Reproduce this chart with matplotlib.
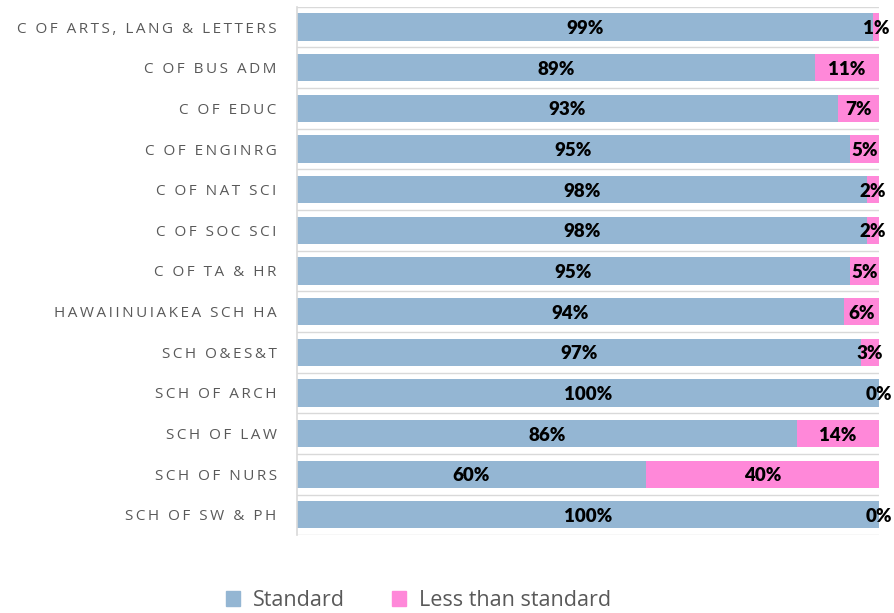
import matplotlib
matplotlib.use("Agg")
import matplotlib.pyplot as plt
from matplotlib.patches import Patch

colleges = ["C OF ARTS, LANG & LETTERS", "C OF BUS ADM", "C OF EDUC", "C OF ENGINRG",
            "C OF NAT SCI", "C OF SOC SCI", "C OF TA & HR", "HAWAIINUIAKEA SCH HA",
            "SCH O&ES&T", "SCH OF ARCH", "SCH OF LAW", "SCH OF NURS", "SCH OF SW & PH"]
standard = [99, 89, 93, 95, 98, 98, 95, 94, 97, 100, 86, 60, 100]
less_than = [1, 11, 7, 5, 2, 2, 5, 6, 3, 0, 14, 40, 0]

BLUE = "#94b6d3"
PINK = "#ff88d9"
GRAY_TXT = "#595959"
GRID = "#d9d9d9"
FONT = ["Open Sans", "DejaVu Sans"]
BOLD_FONT = ["Lato", "DejaVu Sans"]


def spaced(s):
    # mimic the letter spacing of the original axis labels
    return "\u2009".join(s)


fig = plt.figure(figsize=(8.94, 6.13), dpi=100)
ax = fig.add_axes([0.332, 0.127, 0.651, 0.862])

y = list(range(len(colleges)))
ax.barh(y, standard, height=0.67, color=BLUE, label="Standard", zorder=2)
ax.barh(y, less_than, left=standard, height=0.67, color=PINK,
        label="Less than standard", zorder=2)

for i in y:
    ax.text(standard[i] / 2, i, f"{standard[i]}%", ha="center", va="center_baseline",
            fontsize=13.5, fontweight="heavy", color="black", family=BOLD_FONT, zorder=3)
    ax.text(standard[i] + less_than[i] / 2, i, f"{less_than[i]}%", ha="center",
            va="center_baseline", fontsize=13.5, fontweight="heavy", color="black",
            family=BOLD_FONT, zorder=3)

ax.set_xlim(0, 100)
ax.set_ylim(len(colleges) - 0.5, -0.5)
for b in range(len(colleges) + 1):
    ax.axhline(b - 0.5, color=GRID, lw=1, zorder=1)

ax.set_yticks(y)
ax.set_yticklabels([spaced(c) for c in colleges], family=FONT, fontsize=11,
                   color=GRAY_TXT)
ax.tick_params(axis="y", length=0, pad=14.5)
ax.set_xticks([])
for side in ["top", "right", "bottom"]:
    ax.spines[side].set_visible(False)
ax.spines["left"].set_color(GRID)
ax.spines["left"].set_linewidth(1.2)

handles = [Patch(color=BLUE, label="Standard"), Patch(color=PINK, label="Less than standard")]
fig.legend(handles=handles, loc="center", bbox_to_anchor=(0.468, 0.02), ncol=2,
           frameon=False, prop={"family": FONT, "size": 15.5}, handlelength=0.65,
           handleheight=0.65, columnspacing=2.2, handletextpad=0.6,
           labelcolor=GRAY_TXT)

fig.savefig("out.png", dpi=100)
